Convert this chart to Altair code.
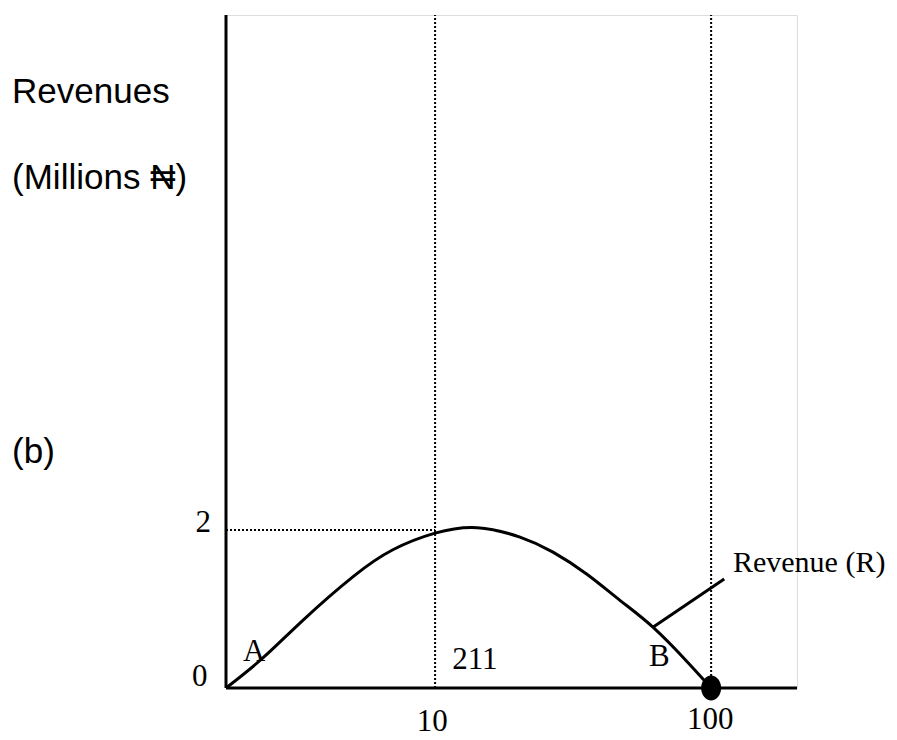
import altair as alt
import pandas as pd

# ---- values (x: output units, y: revenue, millions N) ----
curve_q = [0, 7.6, 15.9, 26.2, 34.4, 43.1, 51.8, 60.6, 67.4, 74.4, 81.2, 88.0, 95.1, 100]
curve_r = [0, 0.38, 0.86, 1.41, 1.75, 1.96, 2.03, 1.91, 1.72, 1.44, 1.11, 0.77, 0.33, 0]

q_mark = 43.1        # position labelled "10"
q_end = 100.0        # position labelled "100"
r_mark = 2.0         # level labelled "2"
q_max = 117.7        # end of horizontal axis
r_max = 8.52         # top of vertical axis

leader_q = [88.0, 102.7]
leader_r = [0.77, 1.38]

# serif labels (Times-like) : text, x, y
serif_text = ["2", "0", "A", "211", "B", "10", "100"]
serif_q = [-4.7, -5.4, 5.8, 51.3, 89.3, 42.5, 99.8]
serif_r = [2.09, 0.14, 0.46, 0.35, 0.39, -0.43, -0.41]

# sans labels (Arial-like), left aligned
sans_text = ["Revenues", "(Millions \u20a6)", "(b)"]
sans_q = [-44.1, -44.1, -44.1]
sans_r = [7.54, 6.46, 2.99]

legend_text = "Revenue (R)"
legend_q = 104.5
legend_r = 1.58

W, H = 571, 673
xs = alt.Scale(domain=[0, q_max], nice=False, zero=False)
ys = alt.Scale(domain=[0, r_max], nice=False, zero=False)

def X(f="x"):
    return alt.X(f"{f}:Q", scale=xs, axis=None)

def Y(f="y"):
    return alt.Y(f"{f}:Q", scale=ys, axis=None)

axes_df = pd.DataFrame({"x": [0, 0], "y": [0, 0], "x2": [q_max, 0], "y2": [0, r_max]})
axes = alt.Chart(axes_df).mark_rule(color="black", strokeWidth=3).encode(
    x=X(), y=Y(), x2="x2:Q", y2="y2:Q")

dots_df = pd.DataFrame({
    "x": [q_mark, q_end, 0], "y": [0, 0, r_mark],
    "x2": [q_mark, q_end, q_mark], "y2": [r_max, r_max, r_mark]})
dotted = alt.Chart(dots_df).mark_rule(color="black", strokeWidth=2, strokeDash=[2, 2]).encode(
    x=X(), y=Y(), x2="x2:Q", y2="y2:Q")

curve = alt.Chart(pd.DataFrame({"x": curve_q, "y": curve_r})).mark_line(
    color="black", strokeWidth=3, interpolate="natural").encode(x=X(), y=Y())

leader = alt.Chart(pd.DataFrame({"x": [leader_q[0]], "y": [leader_r[0]],
                                 "x2": [leader_q[1]], "y2": [leader_r[1]]})).mark_rule(
    color="black", strokeWidth=3).encode(x=X(), y=Y(), x2="x2:Q", y2="y2:Q")

ellipse = "M-0.8,0 A0.8,1 0 1,1 0.8,0 A0.8,1 0 1,1 -0.8,0 Z"
dot = alt.Chart(pd.DataFrame({"x": [q_end], "y": [0]})).mark_point(
    shape=ellipse, size=625, filled=True, color="black", opacity=1).encode(x=X(), y=Y())

serif = alt.Chart(pd.DataFrame({"t": serif_text, "x": serif_q, "y": serif_r})).mark_text(
    font="Liberation Serif", fontSize=31, color="black", align="center", baseline="middle").encode(
    x=X(), y=Y(), text="t:N")

sans = alt.Chart(pd.DataFrame({"t": sans_text, "x": sans_q, "y": sans_r})).mark_text(
    font="Liberation Sans", fontSize=35, color="black", align="left", baseline="middle").encode(
    x=X(), y=Y(), text="t:N")

legend = alt.Chart(pd.DataFrame({"t": [legend_text], "x": [legend_q], "y": [legend_r]})).mark_text(
    font="Liberation Serif", fontSize=30, color="black", align="left", baseline="middle").encode(
    x=X(), y=Y(), text="t:N")

chart = alt.layer(dotted, axes, curve, leader, dot, serif, sans, legend).properties(
    width=W, height=H,
    autosize=alt.AutoSizeParams(type="none"),
    padding={"left": 218, "top": 7, "right": 92, "bottom": 50},
).configure_view(stroke=None).configure(background="white")

chart.save("out.html", embed_options={"renderer": "svg", "actions": False})
